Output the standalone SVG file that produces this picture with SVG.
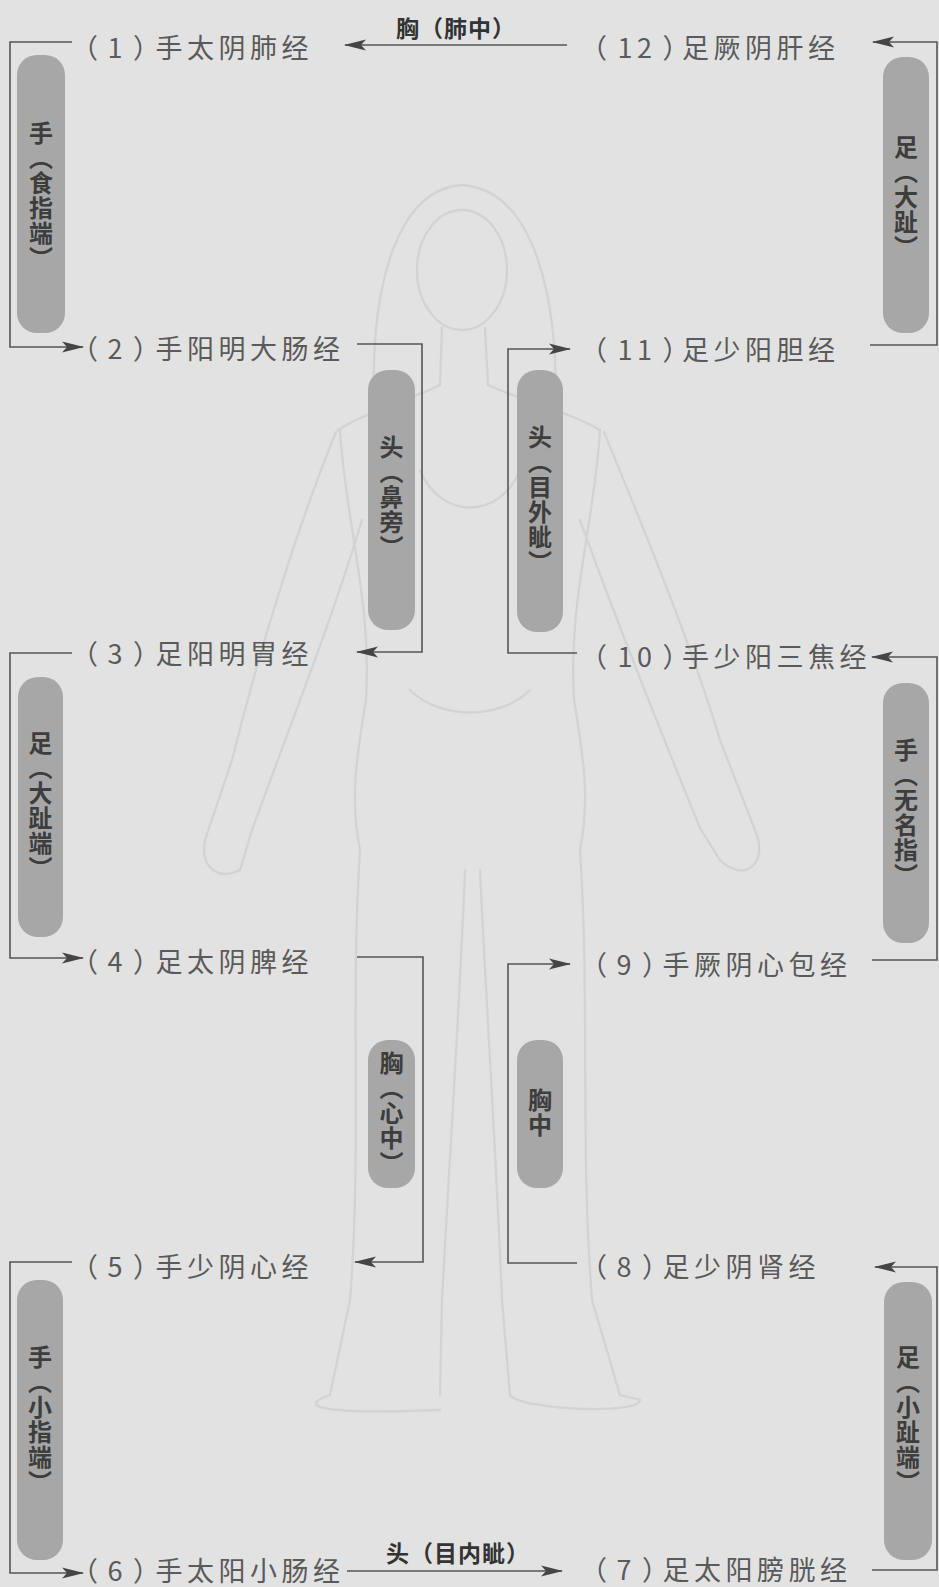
<svg xmlns="http://www.w3.org/2000/svg" width="939" height="1587" viewBox="0 0 939 1587">
<defs>
<marker id="arr" markerUnits="userSpaceOnUse" markerWidth="22" markerHeight="12" refX="21" refY="6" orient="auto">
<path d="M0,0.5 L22,6 L0,11.5 L5,6 z" fill="#454545"/>
</marker>
<style>
.bg{fill:#e2e2e2}
.fig{fill:none;stroke:#d3d3d3;stroke-width:2.3;stroke-linecap:round}
.lbl{font-family:"Noto Sans CJK SC","Noto Sans",sans-serif;font-size:27px;letter-spacing:4.5px;fill:#5a5a5a;dominant-baseline:central}
.pill{fill:#a7a7a7}
.vt{font-family:"Noto Sans CJK SC",sans-serif;font-size:24px;font-weight:bold;fill:#3d3d3d;writing-mode:vertical-rl;letter-spacing:1px}
.bt{font-family:"Noto Sans CJK SC",sans-serif;font-size:23px;font-weight:bold;fill:#333;text-anchor:middle;dominant-baseline:central;letter-spacing:1px}
.con{fill:none;stroke:#555;stroke-width:1.6}
</style>
</defs>
<rect class="bg" x="0" y="0" width="939" height="1587"/>
<g id="figure">
<path class="fig" d="M375,420 C368,300 392,190 462,185 C535,190 560,300 555,420"/>
<ellipse class="fig" cx="462" cy="270" rx="45" ry="60"/>
<path class="fig" d="M442,328 L440,385 M485,328 L488,385"/>
<path class="fig" d="M440,385 C410,400 370,410 338,430 M488,385 C520,400 565,410 600,430"/>
<path class="fig" d="M340,430 C345,520 372,600 366,700 C356,760 350,800 360,850"/>
<path class="fig" d="M600,430 C595,520 568,600 574,700 C584,760 590,800 580,850"/>
<path class="fig" d="M336,432 C300,520 262,640 232,760 L205,840 M362,520 C332,620 292,720 252,830"/>
<path class="fig" d="M205,840 C200,870 220,880 240,870 L252,830"/>
<path class="fig" d="M604,432 C640,520 690,640 720,740 L758,838 M580,520 C616,620 656,720 700,828"/>
<path class="fig" d="M758,838 C765,870 740,880 720,860 L700,828"/>
<path class="fig" d="M360,850 C350,1000 362,1150 350,1300 L330,1395 M465,870 C460,1000 450,1150 442,1300 L440,1395"/>
<path class="fig" d="M480,870 C486,1000 496,1150 502,1300 L510,1395 M580,850 C590,1000 580,1150 592,1300 L620,1395"/>
<path class="fig" d="M330,1395 C300,1405 310,1415 440,1410 M510,1395 C520,1410 640,1415 640,1400 L620,1395"/>
<path class="fig" d="M420,470 C440,520 500,520 520,470 M410,690 C440,720 500,720 530,690"/>
</g>
<g id="connectors">
<path class="con" d="M567,45 L345,45" marker-end="url(#arr)"/>
<path class="con" d="M72,42 L10,42 L10,347 L83,347" marker-end="url(#arr)"/>
<path class="con" d="M870,345 L937,345 L937,42 L873,42" marker-end="url(#arr)"/>
<path class="con" d="M357,344 L422,344 L422,652 L357,652" marker-end="url(#arr)"/>
<path class="con" d="M577,653 L508,653 L508,349 L570,349" marker-end="url(#arr)"/>
<path class="con" d="M72,653 L10,653 L10,958 L83,958" marker-end="url(#arr)"/>
<path class="con" d="M872,960 L937,960 L937,657 L872,657" marker-end="url(#arr)"/>
<path class="con" d="M357,957 L423,957 L423,1262 L355,1262" marker-end="url(#arr)"/>
<path class="con" d="M577,1263 L508,1263 L508,964 L570,964" marker-end="url(#arr)"/>
<path class="con" d="M72,1262 L10,1262 L10,1573 L83,1573" marker-end="url(#arr)"/>
<path class="con" d="M347,1571 L562,1571" marker-end="url(#arr)"/>
<path class="con" d="M872,1570 L937,1570 L937,1267 L875,1267" marker-end="url(#arr)"/>
<text class="bt" x="456" y="27">胸（肺中）</text>
<text class="bt" x="458" y="1552">头（目内眦）</text>
</g>
<g id="m1"><text class="lbl" x="74" y="46" dx="-3 5 6 -9">（1）手太阴肺经</text></g>
<g id="m2"><text class="lbl" x="74" y="347" dx="-3 5 6 -9">（2）手阳明大肠经</text></g>
<g id="m3"><text class="lbl" x="74" y="652" dx="-3 5 6 -9">（3）足阳明胃经</text></g>
<g id="m4"><text class="lbl" x="74" y="960" dx="-3 5 6 -9">（4）足太阴脾经</text></g>
<g id="m5"><text class="lbl" x="74" y="1265" dx="-3 5 6 -9">（5）手少阴心经</text></g>
<g id="m6"><text class="lbl" x="74" y="1569" dx="-3 5 6 -9">（6）手太阳小肠经</text></g>
<g id="m7"><text class="lbl" x="580" y="1568" dx="0 5 6 -11">（7）足太阳膀胱经</text></g>
<g id="m8"><text class="lbl" x="580" y="1265" dx="0 5 6 -11">（8）足少阴肾经</text></g>
<g id="m9"><text class="lbl" x="580" y="963" dx="0 5 6 -11">（9）手厥阴心包经</text></g>
<g id="m10"><text class="lbl" x="580" y="655" dx="0 6 0 6 -12">（10）手少阳三焦经</text></g>
<g id="m11"><text class="lbl" x="580" y="348" dx="0 6 0 6 -12">（11）足少阳胆经</text></g>
<g id="m12"><text class="lbl" x="580" y="46" dx="0 6 0 6 -12">（12）足厥阴肝经</text></g>
<g id="p1"><rect class="pill" x="17" y="55" width="48" height="278" rx="20"/><text class="vt" x="41" y="121">手（食指端）</text></g>
<g id="p2"><rect class="pill" x="368" y="370" width="47" height="260" rx="20"/><text class="vt" x="391.5" y="435">头（鼻旁）</text></g>
<g id="p3"><rect class="pill" x="517" y="370" width="46" height="262" rx="20"/><text class="vt" x="540" y="425">头（目外眦）</text></g>
<g id="p4"><rect class="pill" x="883" y="57" width="46" height="276" rx="20"/><text class="vt" x="906" y="135">足（大趾）</text></g>
<g id="p5"><rect class="pill" x="18" y="677" width="45" height="260" rx="20"/><text class="vt" x="40.5" y="731">足（大趾端）</text></g>
<g id="p6"><rect class="pill" x="883" y="683" width="46" height="260" rx="20"/><text class="vt" x="906" y="738">手（无名指）</text></g>
<g id="p7"><rect class="pill" x="368" y="1040" width="47" height="148" rx="20"/><text class="vt" x="391.5" y="1051">胸（心中）</text></g>
<g id="p8"><rect class="pill" x="517" y="1040" width="46" height="148" rx="20"/><text class="vt" x="540" y="1088">胸中</text></g>
<g id="p9"><rect class="pill" x="17" y="1280" width="46" height="280" rx="20"/><text class="vt" x="40" y="1345">手（小指端）</text></g>
<g id="p10"><rect class="pill" x="884" y="1282" width="48" height="278" rx="20"/><text class="vt" x="908" y="1345">足（小趾端）</text></g>
</svg>
